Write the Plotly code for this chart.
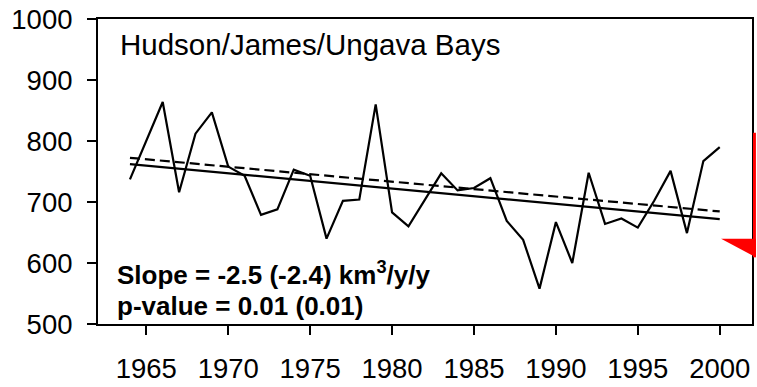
import plotly.graph_objects as go

# ---- data ----
years = list(range(1964, 2001))
volume = [737, 800, 864, 716, 812, 847, 758, 743, 679, 688,
          753, 743, 640, 702, 704, 860, 683, 660, 704, 747,
          719, 723, 739, 669, 638, 558, 667, 600, 748, 664,
          673, 658, 702, 751, 649, 767, 790]

trend_years = [1964, 2000]
trend_solid = [762, 672]      # slope -2.5
trend_dashed = [772.5, 684.5]  # slope -2.4

x_ticks = [1965, 1970, 1975, 1980, 1985, 1990, 1995, 2000]
y_ticks = [500, 600, 700, 800, 900, 1000]

title_text = "Hudson/James/Ungava Bays"
slope_text = "Slope = -2.5 (-2.4) km<sup>3</sup>/y/y"
pvalue_text = "p-value = 0.01 (0.01)"

FONT = "Liberation Sans, Arial, sans-serif"

fig = go.Figure()
fig.add_trace(go.Scatter(x=years, y=volume, mode="lines",
                         line=dict(color="black", width=2.2), showlegend=False))
fig.add_trace(go.Scatter(x=trend_years, y=trend_solid, mode="lines",
                         line=dict(color="black", width=2.2), showlegend=False))
fig.add_trace(go.Scatter(x=trend_years, y=trend_dashed, mode="lines",
                         line=dict(color="black", width=2.2, dash="10px,5px"),
                         showlegend=False))

axis_common = dict(showline=True, linecolor="black", linewidth=2, mirror=True,
                   showgrid=False, zeroline=False, ticks="outside",
                   ticklen=9, tickwidth=2, tickcolor="black",
                   tickfont=dict(family=FONT, size=27.5, color="black"))

fig.update_xaxes(range=[1962.05, 2001.97], tickvals=x_ticks,
                 ticktext=[str(v) for v in x_ticks], ticklabelstandoff=10,
                 **axis_common)
fig.update_yaxes(range=[500, 1000], tickvals=y_ticks,
                 ticktext=[str(v) for v in y_ticks], ticklabelstandoff=9,
                 **axis_common)

fig.add_annotation(text=title_text, xref="paper", yref="paper",
                   x=0.031, y=0.918, xanchor="left", yanchor="middle",
                   showarrow=False, font=dict(family=FONT, size=29.5, color="black"))
fig.add_annotation(text="<b>" + slope_text + "</b>", xref="paper", yref="paper",
                   x=0.026, y=0.165, xanchor="left", yanchor="middle",
                   showarrow=False, font=dict(family=FONT, size=26, color="black"))
fig.add_annotation(text="<b>" + pvalue_text + "</b>", xref="paper", yref="paper",
                   x=0.026, y=0.06, xanchor="left", yanchor="middle",
                   showarrow=False, font=dict(family=FONT, size=26, color="black"))

# red marker partially visible at the right edge
fig.add_shape(type="rect", xref="paper", yref="paper",
              x0=1.0015, x1=1.006, y0=0.2186, y1=0.627,
              fillcolor="#ff0000", line=dict(width=0))
fig.add_shape(type="path", xref="paper", yref="paper",
              path="M 0.9527 0.2797 L 1.006 0.2797 L 1.006 0.2186 Z",
              fillcolor="#ff0000", line=dict(width=0))

fig.update_layout(width=757, height=387,
                  margin=dict(l=98, r=3, t=19, b=57),
                  paper_bgcolor="white", plot_bgcolor="white")

fig.write_html("out.html")
